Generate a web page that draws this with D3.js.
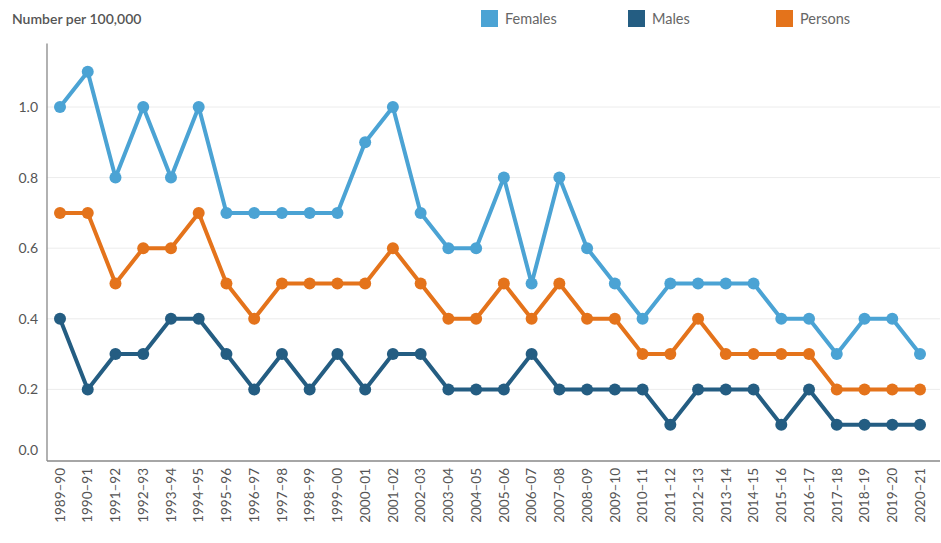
<!DOCTYPE html>
<html><head><meta charset="utf-8">
<script src="https://cdn.jsdelivr.net/npm/d3@7"></script>
<style>
body{margin:0;background:#fff;}
svg{font-family:Lato,"Open Sans",sans-serif;}
</style></head>
<body><svg id="c" width="941" height="543"></svg>
<script>
const categories = ["1989–90","1990–91","1991–92","1992–93","1993–94","1994–95","1995–96","1996–97","1997–98","1998–99","1999–00","2000–01","2001–02","2002–03","2003–04","2004–05","2005–06","2006–07","2007–08","2008–09","2009–10","2010–11","2011–12","2012–13","2013–14","2014–15","2015–16","2016–17","2017–18","2018–19","2019–20","2020–21"];
const females = [1.0,1.1,0.8,1.0,0.8,1.0,0.7,0.7,0.7,0.7,0.7,0.9,1.0,0.7,0.6,0.6,0.8,0.5,0.8,0.6,0.5,0.4,0.5,0.5,0.5,0.5,0.4,0.4,0.3,0.4,0.4,0.3];
const males = [0.4,0.2,0.3,0.3,0.4,0.4,0.3,0.2,0.3,0.2,0.3,0.2,0.3,0.3,0.2,0.2,0.2,0.3,0.2,0.2,0.2,0.2,0.1,0.2,0.2,0.2,0.1,0.2,0.1,0.1,0.1,0.1];
const persons = [0.7,0.7,0.5,0.6,0.6,0.7,0.5,0.4,0.5,0.5,0.5,0.5,0.6,0.5,0.4,0.4,0.5,0.4,0.5,0.4,0.4,0.3,0.3,0.4,0.3,0.3,0.3,0.3,0.2,0.2,0.2,0.2];
const yTicks = [0,0.2,0.4,0.6,0.8,1.0];
const seriesNames = ["Females","Males","Persons"];
const seriesColors = ["#4BA3D4","#245D82","#E4731B"];

const svg = d3.select("#c");
const axisX0 = 47, axisX1 = 940, yBottom = 460;
const x = d3.scalePoint().domain(categories).range([60, 920]);
const y = d3.scaleLinear().domain([0, 1]).range([yBottom, 107]);
const yTop = y(1.18);

// gridlines
svg.append("g").selectAll("line").data(yTicks.filter(d=>d>0)).join("line")
  .attr("x1", axisX0).attr("x2", axisX1)
  .attr("y1", d=>y(d)).attr("y2", d=>y(d))
  .attr("stroke", "#ececec").attr("stroke-width", 1);

// y tick labels
svg.append("g").selectAll("text").data(yTicks).join("text")
  .attr("x", 38).attr("y", d=> d===0 ? y(d)-10 : y(d))
  .attr("dy", "0.35em").attr("text-anchor", "end")
  .attr("fill", "#555").attr("font-size", 14)
  .text(d=>d3.format(".1f")(d));

// axes lines
svg.append("line").attr("x1", axisX0).attr("x2", axisX0).attr("y1", yTop).attr("y2", yBottom+1)
  .attr("stroke", "#888").attr("stroke-width", 1.3);
svg.append("line").attr("x1", axisX0).attr("x2", axisX1).attr("y1", yBottom+1).attr("y2", yBottom+1)
  .attr("stroke", "#888").attr("stroke-width", 1.3);

// x tick labels
svg.append("g").selectAll("text").data(categories).join("text")
  .attr("transform", d=>`translate(${x(d)},${yBottom+8}) rotate(-90)`)
  .attr("text-anchor", "end").attr("dy", "0.35em")
  .attr("fill", "#555").attr("font-size", 13.5)
  .text(d=>d);

const seriesData = [females, males, persons];
const line = d3.line().x((d,i)=>x(categories[i])).y(d=>y(d));
seriesData.forEach((vals, k)=>{
  const g = svg.append("g");
  g.append("path").datum(vals).attr("d", line)
    .attr("fill","none").attr("stroke", seriesColors[k]).attr("stroke-width", 4)
    .attr("stroke-linejoin","round");
  g.selectAll("circle").data(vals).join("circle")
    .attr("cx", (d,i)=>x(categories[i])).attr("cy", d=>y(d)).attr("r", 6)
    .attr("fill", seriesColors[k]);
});

// title
svg.append("text").attr("x", 12).attr("y", 24).attr("font-size", 14).attr("font-weight", 600)
  .attr("fill", "#555").text("Number per 100,000");

// legend
const legX = [481, 628, 776];
seriesNames.forEach((n,k)=>{
  svg.append("rect").attr("x", legX[k]).attr("y", 10).attr("width", 17).attr("height", 17)
    .attr("fill", seriesColors[k]);
  svg.append("text").attr("x", legX[k]+24).attr("y", 19).attr("dy","0.35em")
    .attr("font-size", 14.5).attr("fill", "#666").text(n);
});
</script></body></html>
